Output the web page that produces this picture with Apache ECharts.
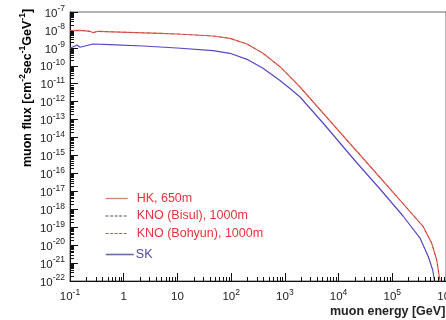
<!DOCTYPE html>
<html><head><meta charset="utf-8">
<script src="https://cdn.jsdelivr.net/npm/echarts@6/dist/echarts.min.js"></script>
<style>html,body{margin:0;padding:0;background:#fff}#c{width:446px;height:320px}</style>
</head><body><div id="c"></div>
<script>
// muon energy [GeV] for the HK / KNO curves
const redEnergy = [0.1, 0.1535, 0.2357, 0.268, 0.332, 1.15, 4.74, 9.82, 46.0, 95.3, 197, 392, 812, 1915, 6928, 22040, 59080, 158400, 373400, 542200, 671900, 741300, 790700];
const hkFlux = [9.06e-9, 9.54e-9, 8.40e-9, 7.01e-9, 8.40e-9, 7.38e-9, 6.49e-9, 5.93e-9, 4.59e-9, 3.41e-9, 1.64e-9, 4.98e-10, 8.91e-11, 6.58e-12, 8.36e-14, 1.66e-15, 5.90e-17, 2.09e-18, 1.12e-19, 1.26e-20, 1.48e-21, 2.16e-22, 6.8e-23];
const knoBisulFlux = [9.06e-9, 9.54e-9, 8.40e-9, 7.01e-9, 8.40e-9, 7.38e-9, 6.49e-9, 5.93e-9, 4.59e-9, 3.41e-9, 1.64e-9, 4.98e-10, 8.91e-11, 6.58e-12, 8.36e-14, 1.66e-15, 5.90e-17, 2.09e-18, 1.12e-19, 1.26e-20, 1.48e-21, 2.16e-22, 6.8e-23];
const knoBohyunFlux = [9.06e-9, 9.54e-9, 8.40e-9, 7.01e-9, 8.40e-9, 7.38e-9, 6.49e-9, 5.93e-9, 4.59e-9, 3.41e-9, 1.64e-9, 4.98e-10, 8.91e-11, 6.58e-12, 8.36e-14, 1.66e-15, 5.90e-17, 2.09e-18, 1.12e-19, 1.26e-20, 1.48e-21, 2.16e-22, 6.8e-23];
// SK curve
const skEnergy = [0.1, 0.135, 0.1535, 0.190, 0.268, 0.556, 2.29, 9.82, 46.0, 95.3, 197, 392, 812, 1247, 1915, 5132, 22040, 59080, 158400, 328300, 468500, 565700, 606000, 637800];
const skFlux = [9.46e-10, 1.45e-9, 1.08e-9, 1.27e-9, 1.64e-9, 1.50e-9, 1.27e-9, 9.84e-10, 6.95e-10, 4.98e-10, 2.30e-10, 7.26e-11, 1.51e-11, 5.42e-12, 1.82e-12, 6.46e-14, 3.80e-16, 1.35e-17, 4.21e-19, 2.49e-20, 2.26e-21, 4.10e-22, 1.14e-22, 3.15e-23];
const seriesNames = ['HK, 650m', 'KNO (Bisul), 1000m', 'KNO (Bohyun), 1000m', 'SK'];
const xExponents = [-1, 0, 1, 2, 3, 4, 5, 6];
const yExponents = [-22, -21, -20, -19, -18, -17, -16, -15, -14, -13, -12, -11, -10, -9, -8, -7];
const minorMultipliers = [2, 3, 4, 5, 6, 7, 8, 9];

// y axis works in decades (log10 of flux); ECharts' log axis rounds 1e-22 to zero
const lg = v => Math.log10(v);
const xMin = Math.pow(10, xExponents[0]), xMax = Math.pow(10, xExponents[xExponents.length - 1]);
const yMin = yExponents[0], yMax = yExponents[yExponents.length - 1];

const xMinor = [];
xExponents.slice(0, -1).forEach(k => minorMultipliers.forEach(m => xMinor.push([m * Math.pow(10, k), yMin])));
const yMinor = [];
yExponents.slice(0, -1).forEach(k => minorMultipliers.forEach(m => yMinor.push([xMin, k + lg(m)])));

const FONT = '"Liberation Sans", Arial, Helvetica, sans-serif';
const supRich = {
  b: { fontSize: 11.5, lineHeight: 15, verticalAlign: 'bottom', color: '#222', fontFamily: FONT },
  s: { fontSize: 8.5, lineHeight: 9, verticalAlign: 'top', color: '#222', fontFamily: FONT }
};
function xLabel(v) {
  const e = Math.round(Math.log10(v));
  if (e === 0) return '{b|1}';
  if (e === 1) return '{b|10}';
  return '{b|10}{s|' + e + '}';
}
function yLabel(v) { return '{b|10}{s|' + Math.round(v) + '}'; }

const chart = echarts.init(document.getElementById('c'), null, { renderer: 'canvas' });
const pairs = (xs, ys) => xs.map((x, i) => [x, lg(ys[i])]);
const lineBase = { type: 'line', symbol: 'none', showSymbol: false, smooth: false, animation: false };
const hiddenSymbol = { color: 'rgba(0,0,0,0)', borderWidth: 0, opacity: 0 };

chart.setOption({
  animation: false,
  backgroundColor: '#fff',
  grid: { left: 70, right: 0, top: 12, bottom: 39, show: true, borderColor: '#666', borderWidth: 1, containLabel: false, outerBoundsMode: 'none' },
  xAxis: {
    type: 'log', logBase: 10, min: xMin, max: xMax,
    axisLine: { lineStyle: { color: '#111', width: 1 } },
    axisTick: { inside: true, length: 8, lineStyle: { color: '#111' } },
    splitLine: { show: false },
    axisLabel: { margin: 7, formatter: xLabel, rich: supRich, hideOverlap: false }
  },
  yAxis: {
    type: 'value', min: yMin, max: yMax, interval: 1,
    axisLine: { show: true, lineStyle: { color: '#111', width: 1 } },
    axisTick: { show: true, inside: true, length: 8, lineStyle: { color: '#111' } },
    splitLine: { show: false },
    axisLabel: { margin: 5, formatter: yLabel, rich: supRich, hideOverlap: false }
  },
  legend: [
    {
      orient: 'vertical', left: 100, top: 187, itemWidth: 22, itemHeight: 12, itemGap: 4.5,
      itemStyle: hiddenSymbol,
      data: [
        { name: seriesNames[0], textStyle: { color: '#e8333a' }, lineStyle: { color: '#c9866a', width: 1.3, type: 'solid' } },
        { name: seriesNames[1], textStyle: { color: '#e8333a' }, lineStyle: { color: '#555', width: 1.1, type: [3, 1.5], opacity: 1 } },
        { name: seriesNames[2], textStyle: { color: '#e8333a' }, lineStyle: { color: '#8e6a62', width: 1.1, type: [3, 1.5], opacity: 1 } }
      ],
      textStyle: { fontSize: 12.5, fontFamily: FONT, padding: [0, 0, 0, 4] }
    },
    {
      orient: 'vertical', left: 100, top: 243, itemWidth: 28, itemHeight: 12,
      itemStyle: hiddenSymbol,
      data: [{ name: seriesNames[3], textStyle: { color: '#4848a8' }, lineStyle: { color: '#6a6aa8', width: 1.6, opacity: 1 } }],
      textStyle: { fontSize: 12.5, fontFamily: FONT, padding: [0, 0, 0, -3] }
    }
  ],
  graphic: [
    {
      type: 'text', x: 26, y: 88, rotation: Math.PI / 2,
      style: {
        text: '{t|muon flux [cm}{s|-2}{t|sec}{s|-1}{t|GeV}{s|-1}{t|]}',
        align: 'center', verticalAlign: 'middle',
        rich: {
          t: { fontSize: 12.5, fontWeight: 'bold', fontFamily: FONT, color: '#222', lineHeight: 16, verticalAlign: 'bottom' },
          s: { fontSize: 8.5, fontWeight: 'bold', fontFamily: FONT, color: '#222', lineHeight: 9, verticalAlign: 'top' }
        }
      }
    },
    {
      type: 'text', x: 330, y: 312,
      style: {
        text: 'muon energy [GeV]', fontSize: 12.5, fontWeight: 'bold', fontFamily: FONT, fill: '#222',
        align: 'left', verticalAlign: 'middle'
      }
    }
  ],
  series: [
    Object.assign({}, lineBase, { name: seriesNames[0], data: pairs(redEnergy, hkFlux), lineStyle: { color: '#e05a4c', width: 1.2 }, itemStyle: { color: '#e05a4c' }, z: 3 }),
    Object.assign({}, lineBase, { name: seriesNames[2], data: pairs(redEnergy, knoBohyunFlux), lineStyle: { color: '#d04848', width: 0.8, type: [3, 3], opacity: 0.6 }, itemStyle: { color: '#d04848' }, z: 4 }),
    Object.assign({}, lineBase, { name: seriesNames[1], data: pairs(redEnergy, knoBisulFlux), lineStyle: { color: '#553333', width: 0.7, type: [2, 4], opacity: 0.35 }, itemStyle: { color: '#553333' }, z: 5 }),
    Object.assign({}, lineBase, { name: seriesNames[3], data: pairs(skEnergy, skFlux), lineStyle: { color: '#5448c4', width: 1.2 }, itemStyle: { color: '#5448c4' }, z: 3 }),
    {
      type: 'custom', name: 'xMinor', data: xMinor, clip: false, silent: true, z: 6,
      renderItem: (params, api) => {
        const p = api.coord([api.value(0), api.value(1)]);
        const x = Math.round(p[0]) + 0.5;
        return { type: 'line', shape: { x1: x, y1: p[1], x2: x, y2: p[1] - 4 }, style: { stroke: '#111', lineWidth: 1 } };
      }
    },
    {
      type: 'custom', name: 'yMinor', data: yMinor, clip: false, silent: true, z: 6,
      renderItem: (params, api) => {
        const p = api.coord([api.value(0), api.value(1)]);
        const y = Math.round(p[1]) + 0.5;
        return { type: 'line', shape: { x1: p[0], y1: y, x2: p[0] + 4, y2: y }, style: { stroke: '#111', lineWidth: 1 } };
      }
    }
  ]
});
</script></body></html>
